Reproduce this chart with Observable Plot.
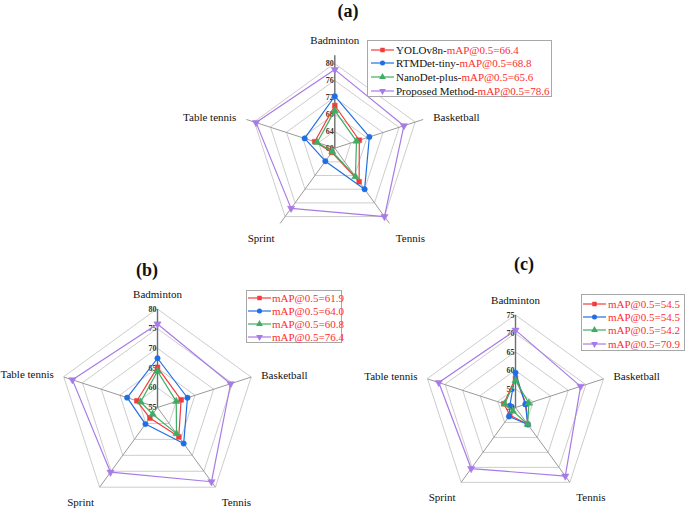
<!DOCTYPE html>
<html><head><meta charset="utf-8">
<script src="https://cdn.jsdelivr.net/npm/d3@7"></script>
<script src="https://cdn.jsdelivr.net/npm/@observablehq/plot@0.6"></script>
<style>
body{margin:0;background:#fff;}
#root{position:relative;width:685px;height:509px;overflow:hidden;font-family:"Liberation Serif","Times New Roman",serif;background:#fff;}
#root svg, #root svg text{font-family:"Liberation Serif","Times New Roman",serif !important;}
.title{position:absolute;font-weight:bold;font-size:18px;transform:translate(-50%,-50%);color:#111;}
.plot{position:absolute;}
.legend{position:absolute;border:1px solid #a8a8a8;background:#fff;box-sizing:border-box;z-index:5;}
.legend .row{position:absolute;height:14px;display:flex;align-items:center;white-space:nowrap;font-size:11px;transform:translateY(-50%);}
.legend .row svg{flex:none;}
.red{color:#ff2d2d;}
</style></head><body><div id="root"></div>
<script>
// ---------- data ----------
const sports = ["Badminton", "Basketball", "Tennis", "Sprint", "Table tennis"];
const models = ["YOLOv8n", "RTMDet-tiny", "NanoDet-plus", "Proposed Method"];

// chart (a)
const aYOLO = [70.1, 66.1, 69.8, 61.2, 65.0];
const aRTM  = [72.3, 68.6, 72.0, 63.8, 67.5];
const aNano = [68.9, 65.4, 68.3, 61.0, 64.4];
const aProp = [78.6, 77.2, 80.0, 77.6, 79.6];
const aTicks = [60, 64, 68, 72, 76, 80];
const aMAP = ["66.4", "68.8", "65.6", "78.6"];

// chart (b)
const bYOLO = [65.2, 61.3, 64.2, 58.3, 60.5];
const bRTM  = [67.5, 63.0, 66.3, 60.2, 63.1];
const bNano = [64.2, 60.0, 63.2, 57.1, 59.5];
const bProp = [76.2, 74.5, 78.3, 75.3, 77.7];
const bTicks = [55, 60, 65, 70, 75, 80];
const bMAP = ["61.9", "64.0", "60.8", "76.4"];

// chart (c)
const cYOLO = [58.0, 53.0, 55.6, 52.6, 53.3];
const cRTM  = [59.4, 52.8, 55.7, 53.0, 51.6];
const cNano = [57.3, 53.8, 55.6, 51.2, 53.1];
const cProp = [70.9, 68.5, 72.9, 70.4, 71.8];
const cTicks = [50, 55, 60, 65, 70, 75];
const cMAP = ["54.5", "54.5", "54.2", "70.9"];

// ---------- styles ----------
const colors = ["#f23b3b", "#1f6fe4", "#3cae62", "#a87ae6"];
const s3 = Math.sqrt(3);
const triDown = {draw(ctx, size) {
  const y = -Math.sqrt(size / (s3 * 3));
  ctx.moveTo(0, -y * 2); ctx.lineTo(-s3 * y, y); ctx.lineTo(s3 * y, y); ctx.closePath();
}};
const symbols = [d3.symbolSquare, d3.symbolCircle, d3.symbolTriangle, triDown];
const serif = "Liberation Serif, Times New Roman, serif";

const root = document.getElementById("root");

// label offsets (px) relative to axis end: [dx, dy, anchor]
const labelOff = [[0, -15, "middle"], [10, -2, "start"], [21, 15.5, "middle"], [-19, 15.5, "middle"], [-10, -2.5, "end"]];

function radar(cfg) {
  const {series, ticks, left, top, width, height, cx, cy, ppu, axisEnd} = cfg;
  const min = ticks[0];
  const ang = i => Math.PI / 2 - i * 2 * Math.PI / 5;
  const toPts = vals => vals.map((v, i) => ({x: (v - min) * Math.cos(ang(i)), y: (v - min) * Math.sin(ang(i)), name: sports[i]}));
  const rings = ticks.filter(t => t > min).flatMap(t => sports.map((s, i) => ({t, x: (t - min) * Math.cos(ang(i)), y: (t - min) * Math.sin(ang(i))})));
  const R = axisEnd - min;
  const spokes = sports.map((s, i) => ({name: s, i, x1: 0, y1: 0, x2: R * Math.cos(ang(i)), y2: R * Math.sin(ang(i))}));
  const tickLabels = ticks.map(t => ({t, x: 0, y: t - min}));

  const marks = [
    Plot.line(rings, {x: "x", y: "y", z: "t", curve: "linear-closed", stroke: "#cdcdcd", strokeWidth: 1}),
    Plot.link(spokes.filter(d => d.i > 0), {x1: "x1", y1: "y1", x2: "x2", y2: "y2", stroke: "#9a9a9a", strokeWidth: 1}),
    Plot.link(spokes.filter(d => d.i === 0), {x1: "x1", y1: "y1", x2: "x2", y2: "y2", stroke: "#6e6e6e", strokeWidth: 1.4}),
    Plot.text(tickLabels, {x: "x", y: "y", text: d => String(d.t), textAnchor: "end", dx: -1, fontSize: 8, fontWeight: "bold", fill: "#333", fontFamily: serif}),
    ...spokes.map((d, i) => Plot.text([d], {x: "x2", y: "y2", text: "name", textAnchor: labelOff[i][2], dx: labelOff[i][0], dy: labelOff[i][1], fontSize: 11, fill: "#111", fontFamily: serif}))
  ];
  series.forEach((vals, k) => {
    const pts = toPts(vals);
    marks.push(Plot.line(pts, {x: "x", y: "y", curve: "linear-closed", stroke: colors[k], strokeWidth: 1.2}));
    marks.push(Plot.dot(pts, {x: "x", y: "y", symbol: symbols[k], r: 2.7, fill: colors[k], stroke: colors[k], strokeWidth: 0.5}));
  });

  const svg = Plot.plot({
    width, height,
    margin: 0,
    x: {domain: [-cx / ppu, (width - cx) / ppu], range: [0, width], axis: null},
    y: {domain: [-(height - cy) / ppu, cy / ppu], range: [height, 0], axis: null},
    style: {background: "transparent", overflow: "visible", fontFamily: serif},
    marks
  });
  const wrap = document.createElement("div");
  wrap.className = "plot";
  wrap.style.left = left + "px"; wrap.style.top = top + "px";
  wrap.appendChild(svg);
  root.appendChild(wrap);
}

function legend(cfg) {
  const {left, top, width, height, rows, swX, swW, textX, names, maps} = cfg;
  const box = document.createElement("div");
  box.className = "legend";
  Object.assign(box.style, {left: left + "px", top: top + "px", width: width + "px", height: height + "px"});
  maps.forEach((m, k) => {
    const row = document.createElement("div");
    row.className = "row";
    row.style.left = swX + "px";
    row.style.top = rows[k] + "px";
    const sw = d3.create("svg").attr("width", swW).attr("height", 10).style("margin-right", (textX - swX - swW) + "px");
    sw.append("line").attr("x1", 0).attr("x2", swW).attr("y1", 5).attr("y2", 5).attr("stroke", colors[k]).attr("stroke-width", 1.2);
    sw.append("path").attr("d", d3.symbol(symbols[k], 20)()).attr("transform", `translate(${swW / 2},5)`).attr("fill", colors[k]);
    row.appendChild(sw.node());
    const span = document.createElement("span");
    if (names) {
      const n = document.createElement("span"); n.textContent = names[k] + "-"; n.style.color = "#111";
      span.appendChild(n);
    }
    const r = document.createElement("span"); r.className = "red"; r.textContent = "mAP@0.5=" + m;
    span.appendChild(r);
    row.appendChild(span);
    box.appendChild(row);
  });
  root.appendChild(box);
}

function title(txt, x, y) {
  const d = document.createElement("div");
  d.className = "title"; d.textContent = txt;
  d.style.left = x + "px"; d.style.top = y + "px";
  root.appendChild(d);
}

// ---------- draw ----------
radar({series: [aYOLO, aRTM, aNano, aProp], ticks: aTicks, axisEnd: 82,
  left: 150, top: 25, width: 340, height: 230, cx: 184.3, cy: 122.7, ppu: 4.225});
radar({series: [bYOLO, bRTM, bNano, bProp], ticks: bTicks, axisEnd: 80,
  left: 0, top: 280, width: 310, height: 229, cx: 157, cy: 127, ppu: 3.94});
radar({series: [cYOLO, cRTM, cNano, cProp], ticks: cTicks, axisEnd: 75,
  left: 355, top: 280, width: 330, height: 229, cx: 160, cy: 127, ppu: 3.7});

legend({left: 367, top: 40, width: 185, height: 57, rows: [8.5, 22.2, 35.9, 49.6], swX: 3, swW: 23, textX: 28, names: models, maps: aMAP});
legend({left: 246, top: 290, width: 96, height: 53, rows: [7, 20, 33, 46], swX: 1, swW: 23, textX: 25, names: null, maps: bMAP});
legend({left: 581, top: 294, width: 104, height: 57, rows: [8.7, 22, 35.4, 48.8], swX: 1, swW: 23, textX: 26, names: null, maps: cMAP});

title("(a)", 348, 11);
title("(b)", 147, 270);
title("(c)", 524, 264);
</script></body></html>
